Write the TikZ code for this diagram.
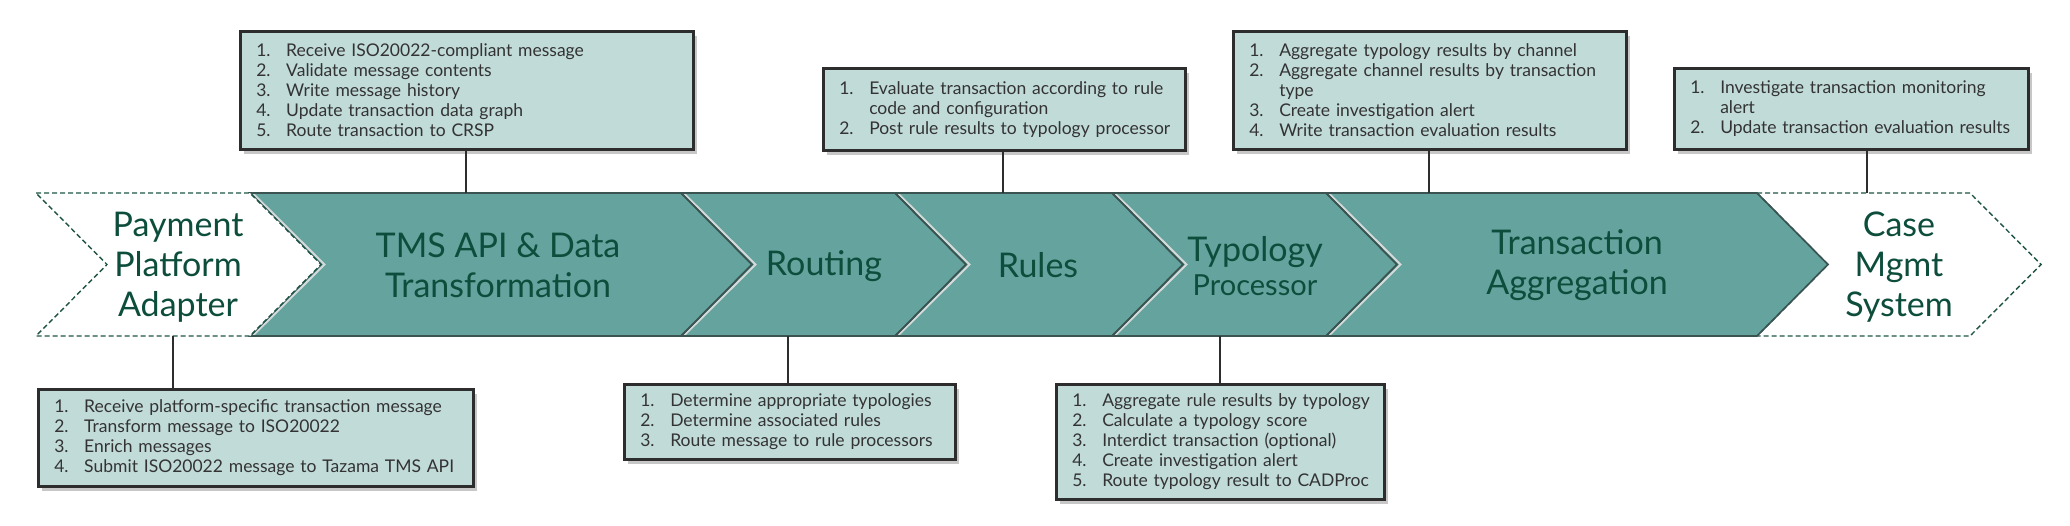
\documentclass[tikz,border=0pt]{standalone}
\usepackage{fontspec}
\setmainfont{Lato}
\usetikzlibrary{shadows}
\definecolor{teal1}{HTML}{64A39E}
\definecolor{chevline}{HTML}{3B5452}
\definecolor{bevelc}{HTML}{D3DAD9}
\definecolor{labc}{HTML}{0D4D3B}
\definecolor{dashc}{HTML}{1E5446}
\definecolor{boxfill}{HTML}{C1DBD9}
\definecolor{boxline}{HTML}{2D2D2D}
\definecolor{boxtext}{HTML}{333333}
\newcommand\boxitem[2]{\mbox{\makebox[30pt][l]{#1}#2}}
\newcommand\boxcont[1]{\mbox{\hspace*{30pt}#1}}
\begin{document}
\begin{tikzpicture}[x=1pt,y=-1pt,
  chevout/.style={draw=chevline,line width=1.6pt,line join=miter},
  bevel/.style={draw=bevelc,line width=2pt},
  dashchev/.style={fill=white,draw=dashc,line width=1.4pt,dash pattern=on 5pt off 3pt},
  lab/.style={text=labc,font=\fontsize{34}{40}\selectfont,align=center,inner sep=0pt},
  box/.style={draw=boxline,line width=2.5pt,fill=boxfill,text=boxtext,
    font=\fontsize{17.5}{20}\selectfont,align=left,inner xsep=16pt,inner ysep=0pt,
    anchor=north west,
    drop shadow={shadow xshift=4pt,shadow yshift=-5pt,fill=black,opacity=0.22}},
  conn/.style={draw=boxline,line width=1.6pt}]
\useasboundingbox (0,0) rectangle (2070,525);
\fill[white] (0,0) rectangle (2070,525);
% teal chevrons
\foreach \a/\b in {250/681,681/895,895/1112,1112/1326,1326/1757}{
  \fill[teal1] (\a,193) -- (\b,193) -- (\b+71,264.5) -- (\b,336) -- (\a,336) -- (\a+71,264.5) -- cycle;
}
% case mgmt (dashed, white)
\draw[dashchev] (1757,193) -- (1970,193) -- (2041,264.5) -- (1970,336) -- (1757,336) -- (1828,264.5) -- cycle;
\foreach \a/\b in {250/681,681/895,895/1112,1112/1326,1326/1757}{
  \draw[bevel] (\a+3.5,194) -- (\a+74.5,264.5) -- (\a+3.5,335);
}
\foreach \a/\b in {250/681,681/895,895/1112,1112/1326,1326/1757}{
  \draw[chevout] (\a,193) -- (\b,193) -- (\b+71,264.5) -- (\b,336) -- (\a,336) -- (\a+71,264.5) -- cycle;
}
% payment platform adapter (dashed, white)
\draw[dashchev] (36,193) -- (250,193) -- (321,264.5) -- (250,336) -- (36,336) -- (107,264.5) -- cycle;
% labels
\node[lab] (pay) at (178,267) {Payment\\Platform\\Adapter};
\node[lab] (tms) at (498,265) {TMS API \& Data\\Transformation};
\node[lab] (rout) at (824,266) {Routing};
\node[lab] (rules) at (1038,265) {Rules};
\node[lab] (typo) at (1255,266) {Typology\\[-6pt]{\fontsize{29}{34}\selectfont Processor}};
\node[lab] (agg) at (1577,265) {Transaction\\Aggregation};
\node[lab] (case) at (1899,267) {Case\\Mgmt\\System};
% connector anchor points on the band
\coordinate (c1) at (173,336);
\coordinate (c2) at (466,193);
\coordinate (c3) at (788,336);
\coordinate (c4) at (1003,193);
\coordinate (c5) at (1220,336);
\coordinate (c6) at (1429,193);
\coordinate (c7) at (1867,193);
% boxes
\node[box,text width=403pt,minimum height=97pt] (b1) at (37,388)
  {\boxitem{1.}{Receive platform-specific transaction message}\\
   \boxitem{2.}{Transform message to ISO20022}\\
   \boxitem{3.}{Enrich messages}\\
   \boxitem{4.}{Submit ISO20022 message to Tazama TMS API}};
\node[box,text width=421pt,minimum height=118pt] (b2) at (239,30)
  {\boxitem{1.}{Receive ISO20022-compliant message}\\
   \boxitem{2.}{Validate message contents}\\
   \boxitem{3.}{Write message history}\\
   \boxitem{4.}{Update transaction data graph}\\
   \boxitem{5.}{Route transaction to CRSP}};
\node[box,text width=299pt,minimum height=75pt] (b3) at (623,383)
  {\boxitem{1.}{Determine appropriate typologies}\\
   \boxitem{2.}{Determine associated rules}\\
   \boxitem{3.}{Route message to rule processors}};
\node[box,text width=330pt,minimum height=82pt] (b4) at (822,67)
  {\boxitem{1.}{Evaluate transaction according to rule}\\
   \boxcont{code and configuration}\\
   \boxitem{2.}{Post rule results to typology processor}};
\node[box,text width=296pt,minimum height=115pt] (b5) at (1055,383)
  {\boxitem{1.}{Aggregate rule results by typology}\\
   \boxitem{2.}{Calculate a typology score}\\
   \boxitem{3.}{Interdict transaction (optional)}\\
   \boxitem{4.}{Create investigation alert}\\
   \boxitem{5.}{Route typology result to CADProc}};
\node[box,text width=361pt,minimum height=118pt] (b6) at (1232,30)
  {\boxitem{1.}{Aggregate typology results by channel}\\
   \boxitem{2.}{Aggregate channel results by transaction}\\
   \boxcont{type}\\
   \boxitem{3.}{Create investigation alert}\\
   \boxitem{4.}{Write transaction evaluation results}};
\node[box,text width=322pt,minimum height=81pt] (b7) at (1673,67)
  {\boxitem{1.}{Investigate transaction monitoring}\\
   \boxcont{alert}\\
   \boxitem{2.}{Update transaction evaluation results}};
% connectors
\draw[conn] (b1.north -| c1) -- (c1);
\draw[conn] (b2.south -| c2) -- (c2);
\draw[conn] (b3.north -| c3) -- (c3);
\draw[conn] (b4.south -| c4) -- (c4);
\draw[conn] (b5.north -| c5) -- (c5);
\draw[conn] (b6.south -| c6) -- (c6);
\draw[conn] (b7.south -| c7) -- (c7);
\end{tikzpicture}
\end{document}
